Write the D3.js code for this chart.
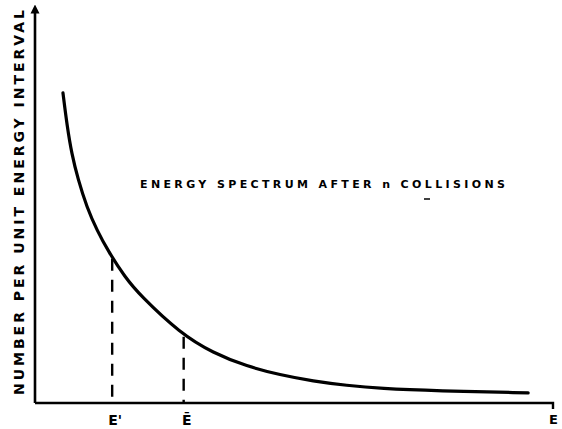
<!DOCTYPE html>
<html>
<head>
<meta charset="utf-8">
<script src="https://cdn.jsdelivr.net/npm/d3@7"></script>
<style>
  html, body { margin: 0; padding: 0; background: #fff; }
  svg { display: block; }
  text { font-family: "DejaVu Sans", sans-serif; font-weight: 700; fill: #000; }
</style>
</head>
<body>
<div id="chart"></div>
<script>
// ---------- data ----------
const energy = [0.54, 0.62, 0.71, 0.83, 1.00, 1.20, 1.41, 1.74, 2.03, 2.80, 3.44, 4.09, 4.73, 5.37, 6.02, 6.66, 7.76, 9.52];
const number = [7.95, 7.10, 6.38, 5.74, 5.02, 4.42, 3.90, 3.22, 2.76, 1.79, 1.28, 0.94, 0.72, 0.56, 0.45, 0.37, 0.31, 0.26];

const markerLabels = ["E'", "\u0112"];
const markerEnergy = [1.49, 2.87];
const markerNumber = [3.70, 1.70];

const title = "ENERGY SPECTRUM AFTER n COLLISIONS";
const yLabel = "NUMBER PER UNIT ENERGY INTERVAL";
const xLabel = "E";

// ---------- dimensions ----------
const width = 562;
const height = 429;

const svg = d3.select("#chart")
  .append("svg")
  .attr("width", width)
  .attr("height", height);

// ---------- scales ----------
const x = d3.scaleLinear()
  .domain([0, 10])
  .range([35, 553]);

const y = d3.scaleLinear()
  .domain([0, 10])
  .range([403, 13]);

// arrow head for the y axis
svg.append("defs")
  .append("marker")
  .attr("id", "arrow")
  .attr("viewBox", "0 0 10 10")
  .attr("refX", 5)
  .attr("refY", 5)
  .attr("markerUnits", "userSpaceOnUse")
  .attr("markerWidth", 9)
  .attr("markerHeight", 12)
  .attr("orient", "auto")
  .append("path")
  .attr("d", "M0,0 L10,5 L0,10 Z")
  .attr("fill", "#000");

// ---------- axes ----------
svg.append("line")
  .attr("x1", x(0)).attr("y1", y(0))
  .attr("x2", x(0)).attr("y2", y(10) - 4)
  .attr("stroke", "#000")
  .attr("stroke-width", 2.6)
  .attr("marker-end", "url(#arrow)");

svg.append("path")
  .attr("d", `M${x(0)},${y(0)} H${x(10)} v6`)
  .attr("fill", "none")
  .attr("stroke", "#000")
  .attr("stroke-width", 2.4);

// ---------- curve ----------
const pts = energy.map((e, i) => [e, number[i]]);

svg.append("path")
  .datum(pts)
  .attr("fill", "none")
  .attr("stroke", "#000")
  .attr("stroke-width", 3.2)
  .attr("stroke-linecap", "round")
  .attr("d", d3.line()
    .x(d => x(d[0]))
    .y(d => y(d[1]))
    .curve(d3.curveBasis));

// ---------- dashed drop lines ----------
markerEnergy.forEach((e, i) => {
  svg.append("line")
    .attr("x1", x(e)).attr("y1", y(markerNumber[i]))
    .attr("x2", x(e)).attr("y2", y(0))
    .attr("stroke", "#000")
    .attr("stroke-width", 2.4)
    .attr("stroke-dasharray", "12,9");

  svg.append("text")
    .attr("x", x(e) + 3)
    .attr("y", 425)
    .attr("text-anchor", "middle")
    .style("font-size", "14px")
    .text(markerLabels[i]);
});

svg.append("text")
  .attr("x", x(10) - 4)
  .attr("y", 424)
  .style("font-size", "13px")
  .text(xLabel);

// ---------- labels ----------
svg.append("text")
  .attr("x", 140)
  .attr("y", 188)
  .attr("textLength", 365)
  .attr("lengthAdjust", "spacing")
  .style("font-size", "11px")
  .text(title);

svg.append("line")
  .attr("x1", 424).attr("y1", 199)
  .attr("x2", 430).attr("y2", 199)
  .attr("stroke", "#000")
  .attr("stroke-width", 1.5);

svg.append("text")
  .attr("transform", "translate(24,395) rotate(-90)")
  .attr("textLength", 385)
  .attr("lengthAdjust", "spacing")
  .style("font-size", "14px")
  .text(yLabel);
</script>
</body>
</html>
